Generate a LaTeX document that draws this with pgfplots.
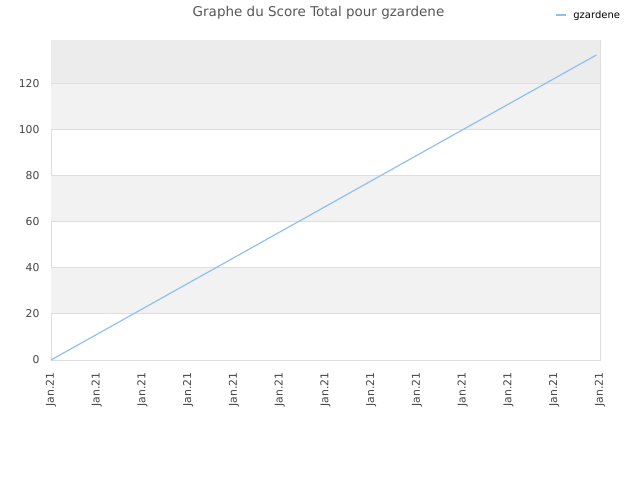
\documentclass[border=0pt]{standalone}
\usepackage{pgfplots}
\pgfplotsset{compat=1.18}
\usepackage{fontspec}
\setmainfont{DejaVu Sans}
\definecolor{linec}{RGB}{143,192,242}
\definecolor{bandc}{RGB}{242,242,242}
\definecolor{topc}{RGB}{236,236,236}
\definecolor{gridc}{RGB}{222,222,222}
\definecolor{txtc}{RGB}{68,68,68}
\begin{document}
\begin{tikzpicture}
\begin{axis}[
  at={(51pt,120pt)}, anchor=south west,
  scale only axis, width=549pt, height=320pt,
  xmin=0, xmax=12, ymin=0, ymax=138.8,
  xtick={0,1,...,12},
  xticklabels={Jan.21,Jan.21,Jan.21,Jan.21,Jan.21,Jan.21,Jan.21,Jan.21,Jan.21,Jan.21,Jan.21,Jan.21,Jan.21},
  ytick={0,20,...,120},
  xticklabel style={rotate=90, anchor=east, font=\fontsize{10.8}{13}\selectfont, text=txtc},
  xticklabel shift=9pt,
  yticklabel style={font=\fontsize{10.8}{13}\selectfont, text=txtc},
  yticklabel shift=8pt,
  /pgf/number format/assume math mode=true,
  major tick length=0pt,
  axis line style={gridc, line width=0.8pt},
  legend style={at={(0.918,1.078)}, anchor=west, draw=none, fill=none, inner sep=0pt, font=\fontsize{10}{12}\selectfont},
  legend cell align=left,
  legend image code/.code={\draw[#1, line width=1.2pt] (0pt,0pt) -- (10pt,0pt); \path (15pt,0pt);},
]
\addplot[fill=bandc, draw=none, forget plot] coordinates {(0,20) (12,20) (12,40) (0,40)} -- cycle;
\addplot[fill=bandc, draw=none, forget plot] coordinates {(0,60) (12,60) (12,80) (0,80)} -- cycle;
\addplot[fill=bandc, draw=none, forget plot] coordinates {(0,100) (12,100) (12,120) (0,120)} -- cycle;
\addplot[fill=topc, draw=none, forget plot] coordinates {(0,120) (12,120) (12,138.8) (0,138.8)} -- cycle;
\addplot[gridc, line width=0.8pt, forget plot] coordinates {(0,20) (12,20)};
\addplot[gridc, line width=0.8pt, forget plot] coordinates {(0,40) (12,40)};
\addplot[gridc, line width=0.8pt, forget plot] coordinates {(0,60) (12,60)};
\addplot[gridc, line width=0.8pt, forget plot] coordinates {(0,80) (12,80)};
\addplot[gridc, line width=0.8pt, forget plot] coordinates {(0,100) (12,100)};
\addplot[gridc, line width=0.8pt, forget plot] coordinates {(0,120) (12,120)};
\addplot[linec, line width=1.2pt] coordinates {(0,0) (11.92,132.3)};
\addlegendentry{gzardene}
\end{axis}
\node[text=txtc!90, font=\fontsize{13.5}{16}\selectfont] at (318.5pt,467.5pt) {Graphe du Score Total pour gzardene};
\path (0pt,0pt) rectangle (640pt,480pt);
\end{tikzpicture}
\end{document}
